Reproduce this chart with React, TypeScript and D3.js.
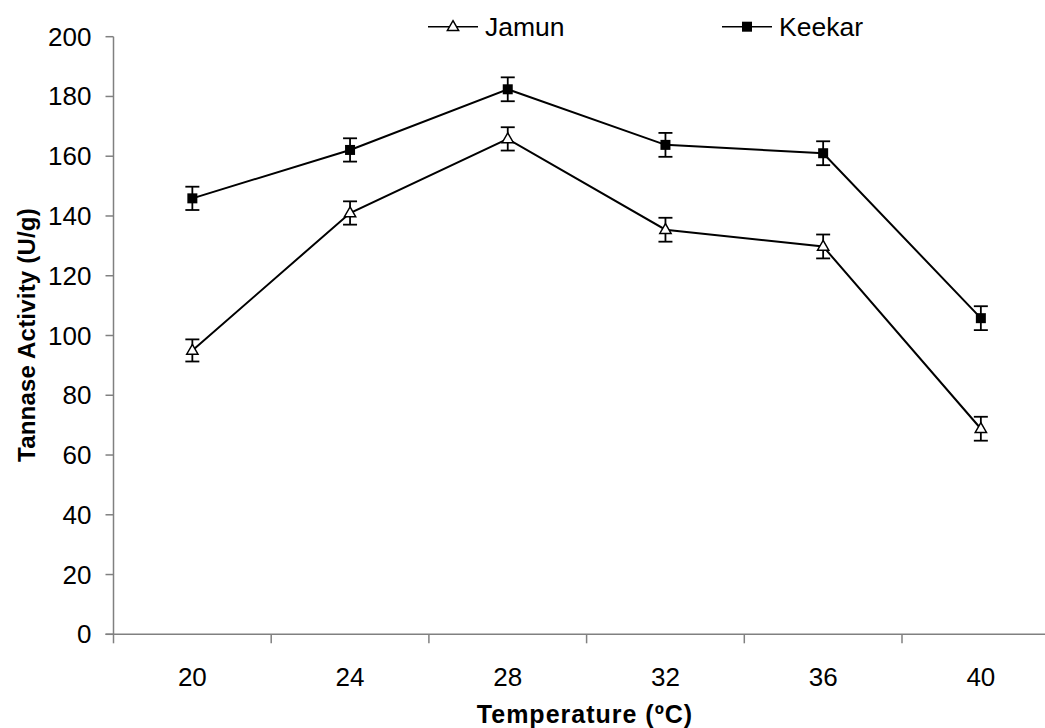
import React from "react";
import * as d3 from "d3";

const categories = ["20", "24", "28", "32", "36", "40"];
const jamunValues = [95, 141, 165.8, 135.4, 129.8, 68.8];
const jamunErrors = [3.7, 3.9, 3.9, 4, 4, 4];
const keekarValues = [145.9, 162.1, 182.4, 163.8, 161, 105.8];
const keekarErrors = [3.9, 3.9, 4, 4, 4, 4];
const yTicks = [0, 20, 40, 60, 80, 100, 120, 140, 160, 180, 200];

const W = 1045;
const H = 728;
const left = 113.5;
const band = 157.7;
const top = 36.7;
const bottom = 634.3;

export default function App() {
  const x = d3
    .scaleBand<string>()
    .domain(categories)
    .range([left, left + band * categories.length])
    .paddingInner(0)
    .paddingOuter(0);
  const y = d3.scaleLinear().domain([0, 200]).range([bottom, top]);
  const cx = (c: string) => (x(c) as number) + x.bandwidth() / 2;

  const line = d3
    .line<number>()
    .x((_, i) => cx(categories[i]))
    .y((d) => y(d));

  const font = "'Liberation Sans', Arial, sans-serif";
  const axisColor = "#808080";
  const tri = d3.symbol().type(d3.symbolTriangle).size(55);

  const series = [
    { name: "Jamun", values: jamunValues, errors: jamunErrors, marker: "tri" },
    { name: "Keekar", values: keekarValues, errors: keekarErrors, marker: "sq" },
  ];

  const drawMarker = (m: string, px: number, py: number, key: string) =>
    m === "sq" ? (
      <rect key={key} x={px - 5} y={py - 5} width={10} height={10} fill="#000" />
    ) : (
      <path
        key={key}
        d={tri() as string}
        transform={`translate(${px},${py + 0.5})`}
        fill="#fff"
        stroke="#000"
        strokeWidth={1.5}
      />
    );

  const xTickPos = d3.range(categories.length + 1).map((i) => left + i * band);
  const legendX = [428, 722];

  return (
    <svg
      width={W}
      height={H}
      style={{ position: "absolute", left: 0, top: 0, background: "#fff" }}
      fontFamily={font}
    >
      <rect x={0} y={0} width={W} height={H} fill="#fff" />
      {/* y axis */}
      <line x1={left} x2={left} y1={top} y2={bottom} stroke={axisColor} strokeWidth={1.5} />
      {yTicks.map((t) => (
        <g key={t}>
          <line x1={left - 8} x2={left} y1={y(t)} y2={y(t)} stroke={axisColor} strokeWidth={1.5} />
          <text
            x={left - 22}
            y={y(t)}
            textAnchor="end"
            dominantBaseline="central"
            fontSize={26}
            fill="#000"
          >
            {t}
          </text>
        </g>
      ))}
      {/* x axis */}
      <line
        x1={left - 8}
        x2={left + band * categories.length}
        y1={bottom}
        y2={bottom}
        stroke={axisColor}
        strokeWidth={1.5}
      />
      {xTickPos.map((p, i) => (
        <line key={i} x1={p} x2={p} y1={bottom} y2={bottom + 9} stroke={axisColor} strokeWidth={1.5} />
      ))}
      {categories.map((c) => (
        <text key={c} x={cx(c)} y={bottom + 52} textAnchor="middle" fontSize={26} fill="#000">
          {c}
        </text>
      ))}
      {/* axis titles */}
      <text x={585} y={723} textAnchor="middle" fontSize={25} fontWeight="bold" fill="#000" letterSpacing={1}>
        Temperature (ºC)
      </text>
      <text
        transform={`translate(35,335) rotate(-90)`}
        textAnchor="middle"
        fontSize={24}
        fontWeight="bold"
        fill="#000"
        letterSpacing={0.2}
      >
        Tannase Activity (U/g)
      </text>
      {/* series */}
      {series.map((s) => (
        <g key={s.name}>
          <path d={line(s.values) as string} fill="none" stroke="#000" strokeWidth={2} />
          {s.values.map((v, i) => {
            const px = cx(categories[i]);
            const yt = y(v + s.errors[i]);
            const yb = y(v - s.errors[i]);
            return (
              <g key={i}>
                <line x1={px} x2={px} y1={yt} y2={yb} stroke="#000" strokeWidth={1.8} />
                <line x1={px - 7} x2={px + 7} y1={yt} y2={yt} stroke="#000" strokeWidth={1.8} />
                <line x1={px - 7} x2={px + 7} y1={yb} y2={yb} stroke="#000" strokeWidth={1.8} />
              </g>
            );
          })}
          {s.values.map((v, i) => drawMarker(s.marker, cx(categories[i]), y(v), `${s.name}-m${i}`))}
        </g>
      ))}
      {/* legend */}
      {series.map((s, i) => {
        const lx = legendX[i];
        const ly = 26.7;
        return (
          <g key={`leg-${s.name}`}>
            <line x1={lx} x2={lx + 50} y1={ly} y2={ly} stroke="#000" strokeWidth={1.4} />
            {drawMarker(s.marker, lx + 25, ly, `leg-m-${s.name}`)}
            <text x={lx + 57} y={36} fontSize={26.5} fill="#000">
              {s.name}
            </text>
          </g>
        );
      })}
    </svg>
  );
}
